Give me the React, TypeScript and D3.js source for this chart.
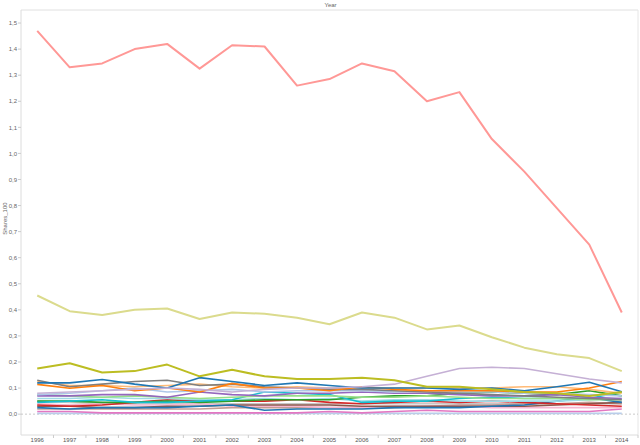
import React from 'react';
import { scaleLinear, scalePoint, line, range } from 'd3';

const width = 640;
const height = 445;
const margin = { top: 10, right: 2, bottom: 10, left: 21 };

const years = range(1996, 2015);
const yTicks = range(0, 16).map((d) => d / 10);

// series values, one per year 1996..2014
const seriesNames = [
  'lightGray', 'lightBlue2', 'pink', 'lightBrown', 'lightPink', 'brown', 'blue2', 'red',
  'lightCyan', 'green', 'cyan', 'lightGreen', 'purple', 'lightBlue', 'lightOrange', 'gray',
  'orange', 'blue', 'lightPurple', 'olive', 'lightOlive', 'lightRed',
];
const seriesColors = [
  '#C7C7C7', '#B9CDEA', '#E377C2', '#C49C94', '#F7B6D2', '#8C564B', '#1F77B4', '#D62728',
  '#9EDAE5', '#2CA02C', '#17BECF', '#98DF8A', '#9467BD', '#AEC7E8', '#FFBB78', '#7F7F7F',
  '#FF7F0E', '#1F77B4', '#C5B0D5', '#BCBD22', '#DBDB8D', '#FF9896',
];
const seriesValues = [
  [0.05, 0.045, 0.04, 0.04, 0.04, 0.04, 0.04, 0.04, 0.04, 0.04, 0.04, 0.04, 0.04, 0.04, 0.04, 0.04, 0.04, 0.04, 0.04],
  [0.003, 0.003, 0.003, 0.003, 0.003, 0.003, 0.003, 0.003, 0.003, 0.003, 0.003, 0.003, 0.003, 0.003, 0.003, 0.003, 0.003, 0.003, 0.003],
  [0.01, 0.01, 0.005, 0.005, 0.005, 0.005, 0.005, 0.005, 0.005, 0.01, 0.005, 0.01, 0.015, 0.01, 0.01, 0.01, 0.01, 0.01, 0.02],
  [0.02, 0.02, 0.02, 0.02, 0.02, 0.02, 0.025, 0.025, 0.025, 0.025, 0.025, 0.025, 0.03, 0.035, 0.035, 0.04, 0.04, 0.045, 0.04],
  [0.04, 0.035, 0.04, 0.035, 0.035, 0.04, 0.03, 0.03, 0.03, 0.025, 0.025, 0.03, 0.03, 0.03, 0.025, 0.025, 0.025, 0.025, 0.025],
  [0.03, 0.03, 0.025, 0.025, 0.03, 0.03, 0.035, 0.035, 0.035, 0.035, 0.03, 0.03, 0.03, 0.03, 0.03, 0.03, 0.035, 0.04, 0.045],
  [0.025, 0.02, 0.025, 0.025, 0.025, 0.03, 0.035, 0.015, 0.02, 0.02, 0.02, 0.025, 0.025, 0.025, 0.03, 0.035, 0.05, 0.063, 0.045],
  [0.035, 0.03, 0.035, 0.045, 0.055, 0.05, 0.05, 0.05, 0.055, 0.045, 0.04, 0.045, 0.05, 0.045, 0.05, 0.045, 0.04, 0.035, 0.03],
  [0.06, 0.06, 0.065, 0.06, 0.06, 0.055, 0.055, 0.06, 0.055, 0.06, 0.05, 0.055, 0.055, 0.05, 0.05, 0.05, 0.05, 0.055, 0.06],
  [0.05, 0.05, 0.045, 0.045, 0.05, 0.045, 0.05, 0.055, 0.055, 0.055, 0.065, 0.07, 0.07, 0.08, 0.085, 0.08, 0.075, 0.09, 0.07],
  [0.045, 0.05, 0.055, 0.045, 0.045, 0.05, 0.055, 0.085, 0.08, 0.075, 0.045, 0.05, 0.05, 0.06, 0.065, 0.06, 0.06, 0.06, 0.085],
  [0.075, 0.07, 0.065, 0.07, 0.065, 0.06, 0.065, 0.07, 0.07, 0.07, 0.065, 0.065, 0.07, 0.065, 0.06, 0.06, 0.06, 0.055, 0.055],
  [0.07, 0.07, 0.075, 0.075, 0.065, 0.085, 0.075, 0.07, 0.08, 0.08, 0.085, 0.08, 0.08, 0.075, 0.07, 0.07, 0.075, 0.065, 0.06],
  [0.075, 0.08, 0.09, 0.1, 0.085, 0.09, 0.095, 0.085, 0.09, 0.09, 0.09, 0.085, 0.09, 0.085, 0.085, 0.08, 0.08, 0.075, 0.07],
  [0.125, 0.11, 0.11, 0.105, 0.11, 0.115, 0.105, 0.1, 0.105, 0.1, 0.1, 0.1, 0.1, 0.1, 0.1, 0.105, 0.105, 0.095, 0.08],
  [0.13, 0.105, 0.115, 0.125, 0.13, 0.11, 0.115, 0.105, 0.1, 0.095, 0.095, 0.09, 0.085, 0.08, 0.075, 0.07, 0.065, 0.06, 0.055],
  [0.114, 0.099, 0.11, 0.09, 0.1, 0.085, 0.118, 0.1, 0.1, 0.09, 0.105, 0.095, 0.09, 0.09, 0.09, 0.085, 0.085, 0.1, 0.125],
  [0.12, 0.12, 0.133, 0.115, 0.1, 0.14, 0.125, 0.11, 0.12, 0.11, 0.1, 0.1, 0.1, 0.095, 0.1, 0.09, 0.105, 0.122, 0.086],
  [0.08, 0.085, 0.09, 0.095, 0.1, 0.095, 0.085, 0.095, 0.1, 0.1, 0.105, 0.115, 0.145, 0.175, 0.18, 0.175, 0.155, 0.135, 0.12],
  [0.175, 0.195, 0.16, 0.165, 0.19, 0.145, 0.17, 0.145, 0.135, 0.135, 0.14, 0.13, 0.105, 0.105, 0.095, 0.085, 0.08, 0.07, 0.085],
  [0.455, 0.395, 0.38, 0.4, 0.405, 0.365, 0.39, 0.385, 0.37, 0.345, 0.39, 0.37, 0.325, 0.34, 0.295, 0.255, 0.23, 0.215, 0.165],
  [1.47, 1.33, 1.345, 1.4, 1.42, 1.325, 1.415, 1.41, 1.26, 1.285, 1.345, 1.315, 1.2, 1.235, 1.055, 0.93, 0.79, 0.65, 0.39],
];

const x = scalePoint<number>()
  .domain(years)
  .range([margin.left, width - margin.right])
  .padding(0.5);

const y = scaleLinear()
  .domain([-0.08, 1.55])
  .range([height - margin.bottom, margin.top]);

const step = x.step();
const fmt = (v: number) => v.toFixed(1).replace('.', ',');

const App = () => {
  const lineGen = line<number>()
    .x((_, i) => x(years[i]) as number)
    .y((d) => y(d));

  return (
    <svg
      width={width}
      height={height}
      style={{ position: 'absolute', left: 0, top: 0, background: '#fff' }}
      fontFamily="Arial, 'Liberation Sans', sans-serif"
    >
      <text x={(margin.left + width) / 2} y={7} textAnchor="middle" fontSize={6} fill="#666">
        Year
      </text>
      {/* plot frame */}
      <line x1={margin.left} x2={width - margin.right} y1={margin.top} y2={margin.top} stroke="#e0e0e0" />
      <line x1={width - margin.right} x2={width - margin.right} y1={margin.top} y2={height - margin.bottom} stroke="#e6e6e6" />
      <line x1={margin.left} x2={margin.left} y1={margin.top} y2={height - margin.bottom} stroke="#dcdcdc" />
      <line x1={margin.left} x2={width - margin.right} y1={height - margin.bottom} y2={height - margin.bottom} stroke="#dcdcdc" />

      {yTicks.map((t) => (
        <g key={t}>
          <line x1={margin.left - 3} x2={margin.left} y1={y(t)} y2={y(t)} stroke="#ccc" />
          <text x={margin.left - 4} y={y(t) + 2.2} textAnchor="end" fontSize={6} fill="#666">
            {fmt(t)}
          </text>
        </g>
      ))}
      <text
        transform={`translate(6.5,${y(0.75)}) rotate(-90)`}
        textAnchor="middle"
        fontSize={6}
        fill="#666"
      >
        Shares_100
      </text>

      <line
        x1={margin.left}
        x2={width - margin.right}
        y1={y(0)}
        y2={y(0)}
        stroke="#bbb"
        strokeDasharray="2,2"
        strokeWidth={0.8}
      />

      {years.map((yr) => (
        <g key={yr}>
          <line
            x1={(x(yr) as number) + step / 2}
            x2={(x(yr) as number) + step / 2}
            y1={height - margin.bottom}
            y2={height - margin.bottom + 3}
            stroke="#ccc"
          />
          <text x={x(yr)} y={height - 3.5} textAnchor="middle" fontSize={6} fill="#555">
            {yr}
          </text>
        </g>
      ))}

      {seriesValues.map((vals, i) => (
        <path
          key={seriesNames[i]}
          d={lineGen(vals) as string}
          fill="none"
          stroke={seriesColors[i]}
          strokeWidth={i >= seriesValues.length - 3 ? 2 : 1.6}
          strokeLinejoin="round"
        />
      ))}
    </svg>
  );
};

export default App;
